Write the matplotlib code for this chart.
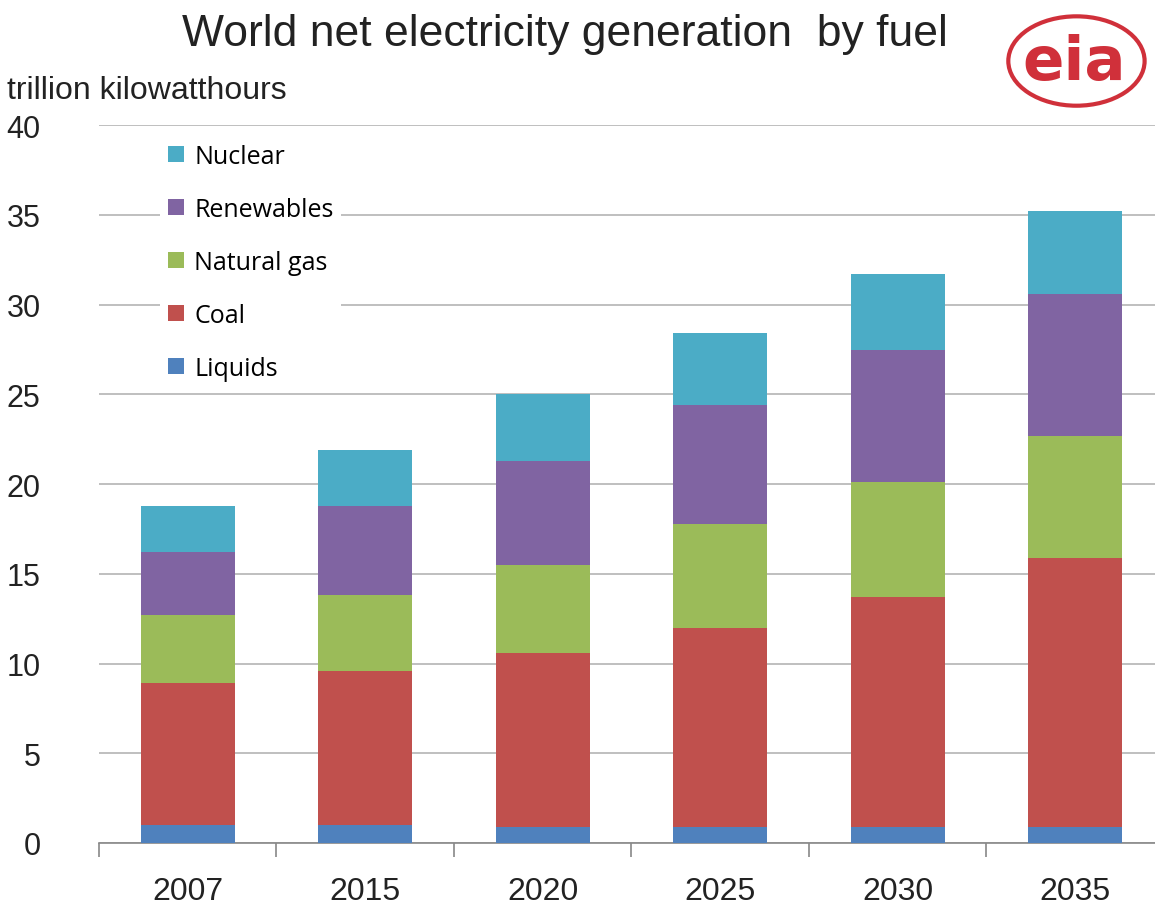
import numpy as np
import matplotlib.pyplot as plt
from matplotlib.patches import Ellipse

years = ['2007', '2015', '2020', '2025', '2030', '2035']
liquids = [1.0, 1.0, 0.9, 0.9, 0.9, 0.9]
coal = [7.9, 8.6, 9.7, 11.1, 12.8, 15.0]
gas = [3.8, 4.2, 4.9, 5.8, 6.4, 6.8]
renewables = [3.5, 5.0, 5.8, 6.6, 7.4, 7.9]
nuclear = [2.6, 3.1, 3.7, 4.0, 4.2, 4.6]

series = [('Liquids', liquids, '#4F81BD'),
          ('Coal', coal, '#C0504D'),
          ('Natural gas', gas, '#9BBB59'),
          ('Renewables', renewables, '#8064A2'),
          ('Nuclear', nuclear, '#4BACC6')]

narrow = ['Liberation Sans Narrow', 'Liberation Sans', 'DejaVu Sans']

fig = plt.figure(figsize=(11.55, 9.12), dpi=100)
ax = fig.add_axes([0.0857, 0.0746, 0.922, 0.787])

x = np.arange(len(years))
bottom = np.zeros(len(years))
handles = []
for name, vals, col in series:
    b = ax.bar(x, vals, 0.53, bottom=bottom, color=col, label=name, zorder=3)
    handles.append(b)
    bottom += np.array(vals)

ax.set_xlim(-0.5, len(years) - 0.5)
ax.set_ylim(0, 40)
ax.set_yticks(range(0, 41, 5))
ax.yaxis.grid(True, color='#B4B4B4', linewidth=1.2, zorder=0)
ax.set_axisbelow(True)
for s in ['top', 'right', 'left']:
    ax.spines[s].set_visible(False)
ax.spines['bottom'].set_color('#888888')
ax.spines['bottom'].set_linewidth(1.2)
ax.set_xticks(x)
ax.set_xticklabels(years)
ax.set_xticks(np.arange(-0.5, len(years), 1), minor=True)
ax.tick_params(axis='x', which='major', length=0, pad=24)
ax.tick_params(axis='x', which='minor', length=10, color='#888888', width=1.2, direction='out')
ax.tick_params(axis='y', length=0, pad=42)
for lab in ax.get_xticklabels() + ax.get_yticklabels():
    lab.set_family(narrow)
    lab.set_fontsize(23)
    lab.set_color('#222222')
for lab in ax.get_yticklabels():
    lab.set_fontsize(22)

leg = ax.legend(handles[::-1], [s[0] for s in series][::-1], loc='upper left',
                bbox_to_anchor=(0.046, 1.002), frameon=True, fancybox=False,
                edgecolor='none', facecolor='white', framealpha=1,
                prop={'family': 'Open Sans', 'size': 18}, labelspacing=1.12,
                handlelength=0.65, handleheight=0.65, handletextpad=0.4,
                borderpad=0.3)
leg.set_zorder(5)

fig.text(0.489, 0.985, 'World net electricity generation  by fuel', ha='center', va='top',
         fontsize=32, family=narrow, color='#222222')
fig.text(0.006, 0.9, 'trillion kilowatthours', ha='left', va='center',
         fontsize=23, family=narrow, color='#222222')

# eia logo
fig.patches.append(Ellipse((0.932, 0.932), 0.118, 0.098, transform=fig.transFigure,
                           facecolor='none', edgecolor='#D0303A', linewidth=3))
fig.text(0.93, 0.93, 'eia', ha='center', va='center', fontsize=44, fontweight='bold',
         color='#D0303A', family='DejaVu Sans')

fig.savefig('out.png', dpi=100)
